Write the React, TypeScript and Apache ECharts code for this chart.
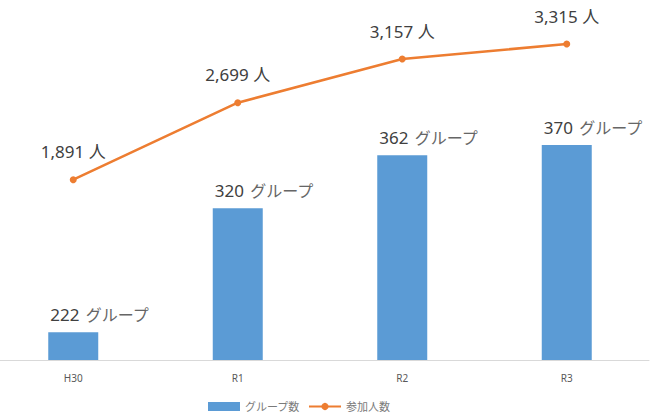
import React, { useEffect, useRef } from "react";
import * as echarts from "echarts";

const categories = ["H30", "R1", "R2", "R3"];
const groupCounts = [222, 320, 362, 370];
const participants = [1891, 2699, 3157, 3315];
const groupName = "グループ数";
const peopleName = "参加人数";
const groupUnit = "グループ";
const peopleUnit = "人";

export default function App() {
  const ref = useRef<HTMLDivElement>(null);
  useEffect(() => {
    if (!ref.current) return;
    const chart = echarts.init(ref.current, null, { renderer: "svg" });
    const font = "'Noto Sans', 'Noto Sans CJK JP', sans-serif";
    chart.setOption({
      animation: false,
      textStyle: { fontFamily: font },
      grid: {
        left: -9,
        width: 658,
        top: 44,
        height: 316,
        containLabel: false,
        outerBoundsMode: "none",
      },
      legend: {
        top: 396,
        left: 203,
        itemGap: 8,
        itemWidth: 32,
        itemHeight: 9,
        textStyle: { color: "#7a7a7a", fontSize: 11, fontFamily: font },
        data: [
          { name: groupName, icon: "rect" },
          { name: peopleName },
        ],
      },
      xAxis: {
        type: "category",
        data: categories,
        axisLine: { lineStyle: { color: "#d9d9d9", width: 1 } },
        axisTick: { show: false },
        axisLabel: { color: "#595959", fontSize: 10, margin: 13 },
      },
      yAxis: [
        { type: "value", min: 200, max: 450, show: false, splitLine: { show: false } },
        { type: "value", min: 0, max: 3315, show: false, splitLine: { show: false } },
      ],
      series: [
        {
          name: groupName,
          type: "bar",
          yAxisIndex: 0,
          barWidth: 50,
          itemStyle: { color: "#5B9BD5" },
          data: groupCounts,
          label: {
            show: true,
            position: "top",
            align: "left",
            offset: [-23, -4],
            formatter: (p: any) => `{n|${p.value}}  {u|${groupUnit}}`,
            rich: {
              n: { fontSize: 17, color: "#404040", fontFamily: font },
              u: { fontSize: 16, color: "#666666", fontFamily: font },
            },
          },
        },
        {
          name: peopleName,
          type: "line",
          yAxisIndex: 1,
          symbol: "circle",
          symbolSize: 7,
          lineStyle: { color: "#ED7D31", width: 2.5 },
          itemStyle: { color: "#ED7D31" },
          data: participants,
          label: {
            show: true,
            position: "top",
            distance: 16,
            formatter: (p: any) => `${p.value.toLocaleString("en-US")} ${peopleUnit}`,
            fontSize: 17,
            color: "#404040",
          },
        },
      ],
    });
    return () => chart.dispose();
  }, []);
  return <div ref={ref} style={{ width: 650, height: 415, position: "absolute", left: 0, top: 0 }} />;
}
